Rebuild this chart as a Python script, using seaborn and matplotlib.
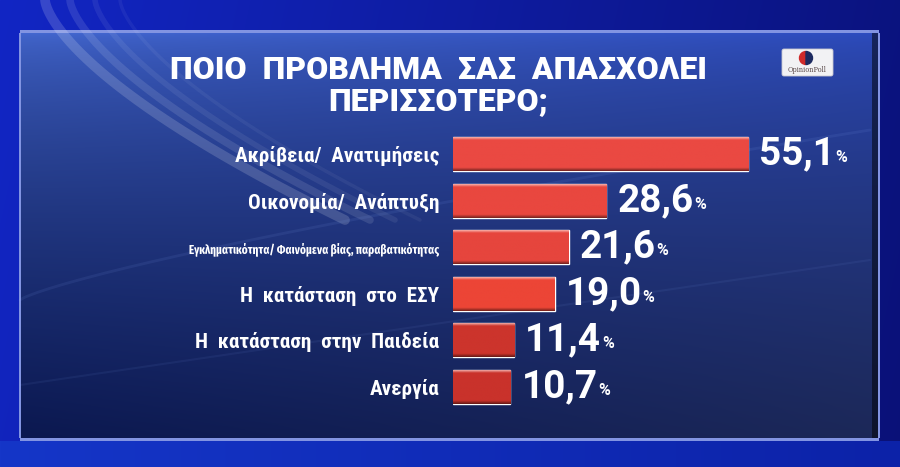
import numpy as np
import pandas as pd
import matplotlib.pyplot as plt
import matplotlib.font_manager as fm
import seaborn as sns
from matplotlib.colors import to_rgb
from matplotlib.patches import FancyBboxPatch, Wedge

# Survey data (Opinion Poll)
title_lines = ["ΠΟΙΟ  ΠΡΟΒΛΗΜΑ  ΣΑΣ  ΑΠΑΣΧΟΛΕΙ", "ΠΕΡΙΣΣΟΤΕΡΟ;"]
issues = [
    "Ακρίβεια/  Ανατιμήσεις",
    "Οικονομία/  Ανάπτυξη",
    "Εγκληματικότητα/ Φαινόμενα βίας, παραβατικότητας",
    "Η  κατάσταση  στο  ΕΣΥ",
    "Η  κατάσταση  στην  Παιδεία",
    "Ανεργία",
]
shares = [55.1, 28.6, 21.6, 19.0, 11.4, 10.7]
value_labels = ["55,1", "28,6", "21,6", "19,0", "11,4", "10,7"]
bar_colors = ["#ea4942", "#e9473f", "#e6453d", "#ec4536", "#cc342c", "#c9322b"]


def pick_font(candidates):
    bold = {f.name for f in fm.fontManager.ttflist if f.weight in (700, "bold")}
    for c in candidates:
        if c in bold:
            return c
    return "DejaVu Sans"


main = pick_font(["Roboto", "Open Sans", "Noto Sans", "Liberation Sans"])
cond = pick_font(["Roboto Condensed", "Fira Sans Condensed", "Open Sans Condensed",
                  "Sofia Sans Condensed", main])
xcond = pick_font(["Fira Sans Extra Condensed", "Sofia Sans Extra Condensed", cond])

sns.set_style("white")
plt.rcParams["font.family"] = [main, "DejaVu Sans"]

W, H = 900, 467
fig = plt.figure(figsize=(W / 100, H / 100), dpi=100)


def mix(c1, c2, t):
    a, b = np.array(to_rgb(c1)), np.array(to_rgb(c2))
    t = np.clip(t, 0, 1)[..., None]
    return a * (1 - t) + b * t


# background: saturated outer blue + translucent inner panel
yy, xx = np.mgrid[0:H, 0:W].astype(float)
img = mix("#1226c4", "#0a1178", xx / W * 0.9 + yy / H * 0.1)
bottom = yy > 440
img[bottom] = mix("#1536c8", "#0c22a8", xx[bottom] / W)
px0, px1, py0, py1 = 20, 878, 33, 437
inside = (xx >= px0) & (xx <= px1) & (yy >= py0) & (yy <= py1)
tv = (yy - py0) / (py1 - py0)
th = (xx - px0) / (px1 - px0)
top_col = mix("#4468d0", "#2d4cc0", th)
bot_col = mix("#0b1850", "#1c2858", th)
panel = top_col * (1 - tv[..., None] ** 0.6) + bot_col * tv[..., None] ** 0.6
img[inside] = panel[inside]
edge = inside & (xx > px1 - 7)
img[edge] = img[edge] * 0.5
frame = "#8294e2"
for mask in [
    (xx >= px0) & (xx <= px1) & (yy >= py0 - 3) & (yy < py0),
    (xx >= px0) & (xx <= px1) & (yy > py1) & (yy <= py1 + 3),
    (xx >= px0 - 1) & (xx < px0 + 1) & (yy >= py0) & (yy <= py1),
    (xx > px1 - 1) & (xx <= px1 + 1) & (yy >= py0) & (yy <= py1),
]:
    img[mask] = to_rgb(frame)

bg = fig.add_axes([0, 0, 1, 1])
bg.imshow(img, extent=(0, W, H, 0), aspect="auto")
# soft light streaks
t = np.linspace(0, 1, 200)
for k, a in enumerate([0.16, 0.11, 0.07, 0.05]):
    bg.plot(45 + 25 * k + 300 * t ** 1.5, 0 + 220 * t, color="white", alpha=a, lw=7 - k * 1.5)
bg.plot(20 + 850 * t, 300 - 170 * t ** 0.8, color="#8fb0ff", alpha=0.09, lw=2)
bg.plot(20 + 850 * t, 385 - 125 * t, color="#8fb0ff", alpha=0.07, lw=1.5)

# logo
bg.add_patch(FancyBboxPatch((782, 49), 51, 27, boxstyle="round,pad=0,rounding_size=2",
                            facecolor="#f2f2f4", edgecolor="#c8c8d0", lw=0.6))
bg.add_patch(Wedge((806, 58), 6.5, 90, 270, color="#cf2a2a"))
bg.add_patch(Wedge((806, 58), 6.5, 270, 90, color="#1c2a60"))
bg.text(807.5, 70.5, "OpinionPoll", ha="center", va="center",
        fontsize=4.8, color="#5a4a4a", family="DejaVu Serif")
bg.set_xlim(0, W)
bg.set_ylim(H, 0)
bg.axis("off")

# title
titles = []
for i, line in enumerate(title_lines):
    titles.append(fig.text(438 / W, 1 - (70 + i * 31) / H, line, ha="center", va="center",
                           color="white", fontsize=22, fontweight="black"))

# bars
df = pd.DataFrame({"issue": issues, "share": shares})
scale = 5.354  # px per percentage point
ax = fig.add_axes([453 / W, 1 - 410 / H, 420 / W, 279 / H])
sns.barplot(data=df, x="share", y="issue", hue="issue", palette=bar_colors,
            legend=False, orient="h", width=0.73, ax=ax, saturation=1)
ax.set_xlim(0, 420 / scale)
ax.set_ylim(5.5, -0.5)
ax.patch.set_alpha(0)
for s in ax.spines.values():
    s.set_visible(False)
ax.set_xlabel("")
ax.set_ylabel("")
ax.set_xticks([])
ax.tick_params(axis="y", length=0, pad=10, labelcolor="white", labelsize=15)
for lab in ax.get_yticklabels():
    lab.set_fontweight("bold")
    lab.set_family([cond, "DejaVu Sans"])
ax.get_yticklabels()[2].set_family([xcond, "DejaVu Sans"])
ax.get_yticklabels()[2].set_fontsize(11)

# glossy gradient on each bar
for p, col in zip(ax.patches, bar_colors):
    x0, y0, w, h = p.get_x(), p.get_y(), p.get_width(), p.get_height()
    r = np.linspace(0, 1, 80)
    grad = np.tile(np.array(to_rgb(col)), (80, 1))
    hi = np.clip(1 - r / 0.08, 0, 1)[:, None]
    grad = grad * (1 - 0.7 * hi) + np.array([1, 0.85, 0.83]) * 0.7 * hi
    sh = np.clip((r - 0.9) / 0.1, 0, 1)[:, None]
    grad = grad * (1 - 0.5 * sh)
    ax.imshow(grad[:, None, :], extent=(x0, x0 + w, y0 + h, y0), aspect="auto",
              origin="upper", clip_path=p, zorder=3)
ax.set_xlim(0, 420 / scale)
ax.set_ylim(5.5, -0.5)

# value labels with small percent sign
values = []
for i, (v, lab) in enumerate(zip(shares, value_labels)):
    txt = ax.annotate(lab, xy=(v, i), xytext=(8, 0), textcoords="offset points",
                      ha="left", va="center", color="white", fontsize=27,
                      fontweight="bold", zorder=4)
    values.append(txt)
    ax.annotate("%", xy=(1, 0.2), xycoords=txt, xytext=(0.5, 0),
                textcoords="offset points", ha="left", va="bottom",
                color="white", fontsize=11.5, fontweight="bold", zorder=4)


# fit text widths to the reference layout
def fit(texts, ref, target_px, max_fs=None):
    fig.canvas.draw()
    wpx = ref.get_window_extent().width
    for tx in texts:
        fs = tx.get_fontsize() * target_px / wpx
        tx.set_fontsize(min(fs, max_fs) if max_fs else fs)


ylabs = ax.get_yticklabels()
fit(titles, titles[0], 535, max_fs=23)
fit([l for k, l in enumerate(ylabs) if k != 2], ylabs[0], 205, max_fs=16)
fit([ylabs[2]], ylabs[2], 250)
fit(values, values[0], 76, max_fs=28)

fig.savefig("out.png", dpi=100)
